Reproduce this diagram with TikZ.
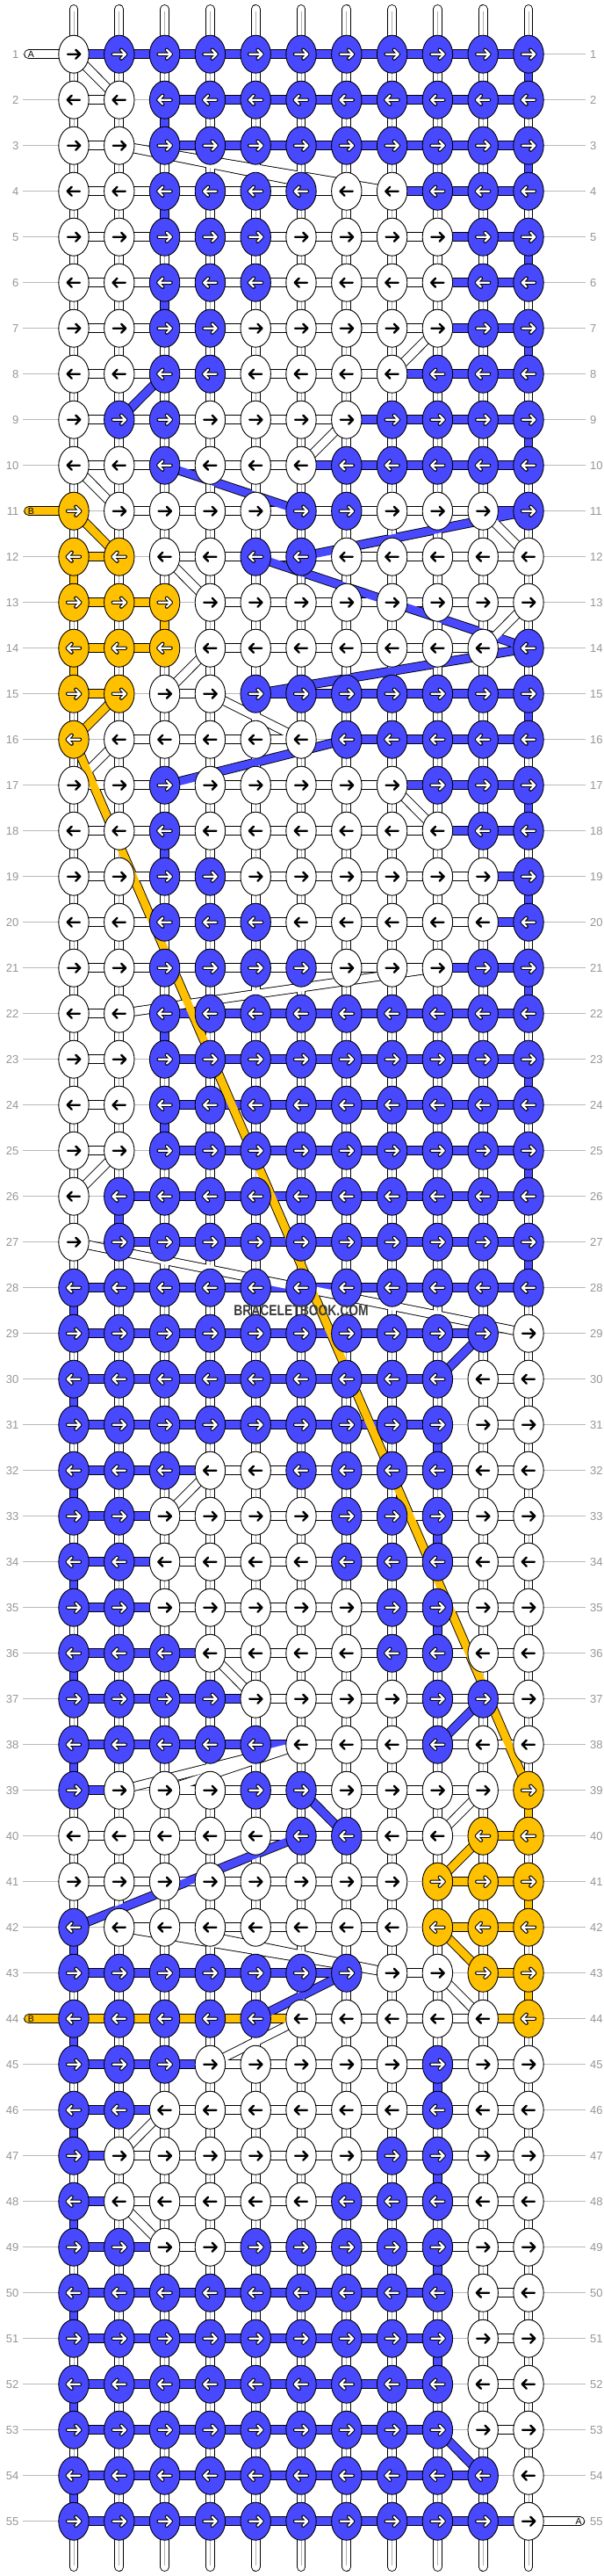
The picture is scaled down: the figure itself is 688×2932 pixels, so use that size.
\documentclass[tikz,border=0pt]{standalone}
\usepackage{fontspec}
\setmainfont{Liberation Sans}
\usetikzlibrary{shapes.geometric}
\definecolor{cU}{RGB}{72,72,255}
\definecolor{cY}{RGB}{255,192,0}
\colorlet{cW}{white}
\definecolor{lbl}{RGB}{150,150,150}
\definecolor{rowline}{RGB}{185,185,185}
\definecolor{cline}{RGB}{175,175,175}
\definecolor{wmgray}{RGB}{58,58,58}
\tikzset{
  knot/.style={ellipse, draw=black, line width=0.9pt, minimum width=34.4pt, minimum height=43pt, inner sep=0pt},
  rout/.style={line width=10.7pt, draw=black},
  rfill/.style={line width=8.9pt},
  cl/.style={line width=0.7pt, draw=cline},
  arrW/.style={line width=2.4pt, draw=black, line cap=round, line join=round},
  arrO/.style={line width=4.3pt, draw=black, line cap=round, line join=round},
  arrI/.style={line width=2.2pt, draw=white, line cap=round, line join=round},
  lab/.style={font=\fontsize{13}{13}\selectfont, text=lbl, inner sep=0pt},
  rl/.style={line width=1.1pt, draw=rowline},
  tl/.style={font=\fontsize{10.5}{10.5}\selectfont, inner sep=0pt},
}
% pass 1: positions, labels, row lines
\newcommand\PRowCoord[4]{%
  \foreach \k [count=\c] in {#2}{%
    \coordinate (k-#1-\c) at ({84+51.8*(\c-1)},{61.7+52*(#1-1)});
  }%
  \node[lab, anchor=east] (ll-#1) at (21.5,{61.7+52*(#1-1)}) {#1};
  \node[lab, anchor=west] (lr-#1) at (672,{61.7+52*(#1-1)}) {#1};
  \draw[rl] ([xshift=4.5pt]ll-#1.east) -- (k-#1-1) -- (k-#1-11) -- ([xshift=-5pt]lr-#1.west);
}
% pass 2: outlines of straight connectors
\newcommand\PRowOut[4]{%
  \pgfmathtruncatemacro\rn{#1+1}%
  \foreach \h [count=\c] in {#3}{%
    \if\h N\else
      \pgfmathtruncatemacro\cn{\c+1}%
      \draw[rout] (k-#1-\c) -- (k-#1-\cn);
    \fi}%
  \foreach \v [count=\c] in {#4}{%
    \if\v N\else
      \draw[rout] (k-#1-\c) -- (k-\rn-\c);
    \fi}%
}
% pass 3: fills of straight connectors
\newcommand\PRowFill[4]{%
  \pgfmathtruncatemacro\rn{#1+1}%
  \foreach \h [count=\c] in {#3}{%
    \if\h N\else
      \pgfmathtruncatemacro\cn{\c+1}%
      \edef\hc{c\h}%
      \draw[rfill, draw=\hc] (k-#1-\c) -- (k-#1-\cn);
    \fi}%
  \foreach \v [count=\c] in {#4}{%
    \if\v N\else
      \edef\vc{c\v}%
      \draw[rfill, draw=\vc] (k-#1-\c) -- (k-\rn-\c);
      \if\v W\draw[cl] (k-#1-\c) -- (k-\rn-\c);\fi
    \fi}%
}
% pass 4: knots with arrows
\newcommand\PRowKnots[4]{%
  \foreach \k [count=\c] in {#2}{%
    \edef\kc{c\k}%
    \node[knot, fill=\kc] (kn-#1-\c) at (k-#1-\c) {};
    \ifodd#1\relax\def\sx{1}\else\def\sx{-1}\fi
    \if\k W
      \draw[shift={(kn-#1-\c.center)}, xscale=\sx, arrW] (-7,0) -- (7.3,0) (2.3,-5) -- (7.3,0) -- (2.3,5);
    \else
      \draw[shift={(kn-#1-\c.center)}, xscale=\sx, arrO] (-7,0) -- (7.3,0) (2.3,-5) -- (7.3,0) -- (2.3,5);
      \draw[shift={(kn-#1-\c.center)}, xscale=\sx, arrI] (-7,0) -- (7.3,0) (2.3,-5) -- (7.3,0) -- (2.3,5);
    \fi
  }%
}
\newcommand\DiagOut[5]{\draw[rout] (k-#1-#2) -- (k-#3-#4);}
\newcommand\DiagFill[5]{\draw[rfill, draw=c#5] (k-#1-#2) -- (k-#3-#4);}
\def\patterndata{%
\PRow{1}{W,U,U,U,U,U,U,U,U,U,U}{U,U,U,U,U,U,U,U,U,U}{W,W,W,W,W,W,W,W,W,W,U}%
\PRow{2}{W,W,U,U,U,U,U,U,U,U,U}{W,N,U,U,U,U,U,U,U,U}{W,W,U,W,W,W,W,W,W,W,W}%
\PRow{3}{W,W,U,U,U,U,U,U,U,U,U}{W,N,U,U,U,U,U,U,U,U}{W,W,W,W,W,W,W,W,W,W,U}%
\PRow{4}{W,W,U,U,U,U,W,W,U,U,U}{W,W,W,W,W,W,W,U,U,U}{W,W,U,W,W,W,W,W,W,W,W}%
\PRow{5}{W,W,U,U,U,W,W,W,W,U,U}{W,W,W,W,W,W,W,W,U,U}{W,W,W,W,W,W,W,W,W,W,U}%
\PRow{6}{W,W,U,U,U,W,W,W,W,U,U}{W,W,W,W,W,W,W,W,U,U}{W,W,U,W,W,W,W,W,W,W,W}%
\PRow{7}{W,W,U,U,W,W,W,W,W,U,U}{W,W,W,W,W,W,W,W,U,U}{W,W,W,W,W,W,W,W,W,W,U}%
\PRow{8}{W,W,U,U,W,W,W,W,U,U,U}{W,W,W,W,W,W,W,U,U,U}{W,W,W,W,W,W,W,W,W,W,W}%
\PRow{9}{W,U,U,W,W,W,W,U,U,U,U}{W,W,W,W,W,W,U,U,U,U}{W,W,W,W,W,W,W,W,W,W,U}%
\PRow{10}{W,W,U,W,W,W,U,U,U,U,U}{W,W,W,W,W,U,U,U,U,U}{W,W,W,W,W,W,W,W,W,W,W}%
\PRow{11}{Y,W,W,W,W,U,U,W,W,W,U}{N,W,W,W,W,W,W,W,W,U}{W,W,W,W,W,W,W,W,W,W,W}%
\PRow{12}{Y,Y,W,W,U,U,W,W,W,W,W}{Y,N,W,W,W,W,W,W,W,W}{Y,W,W,W,W,W,W,W,W,W,W}%
\PRow{13}{Y,Y,Y,W,W,W,W,W,W,W,W}{Y,Y,N,W,W,W,W,W,W,W}{W,W,Y,W,W,W,W,W,W,W,W}%
\PRow{14}{Y,Y,Y,W,W,W,W,W,W,W,U}{Y,Y,N,W,W,W,W,W,W,N}{Y,W,W,W,W,W,W,W,W,W,W}%
\PRow{15}{Y,Y,W,W,U,U,U,U,U,U,U}{Y,N,W,N,U,U,U,U,U,U}{W,W,W,W,W,W,W,W,W,W,U}%
\PRow{16}{Y,W,W,W,W,W,U,U,U,U,U}{N,W,W,W,W,N,U,U,U,U}{W,W,W,W,W,W,W,W,W,W,W}%
\PRow{17}{W,W,U,W,W,W,W,W,U,U,U}{W,W,W,W,W,W,W,U,U,U}{W,W,W,W,W,W,W,W,W,W,U}%
\PRow{18}{W,W,U,W,W,W,W,W,W,U,U}{W,W,W,W,W,W,W,W,U,U}{W,W,U,W,W,W,W,W,W,W,W}%
\PRow{19}{W,W,U,U,W,W,W,W,W,W,U}{W,W,W,W,W,W,W,W,W,U}{W,W,W,W,W,W,W,W,W,W,U}%
\PRow{20}{W,W,U,U,U,W,W,W,W,W,U}{W,W,W,W,W,W,W,W,W,U}{W,W,W,W,W,W,W,W,W,W,W}%
\PRow{21}{W,W,U,U,U,U,W,W,W,U,U}{W,W,W,W,W,W,W,W,U,U}{W,W,W,W,W,W,W,W,W,W,U}%
\PRow{22}{W,W,U,U,U,U,U,U,U,U,U}{W,N,U,U,U,U,U,U,U,U}{W,W,U,W,W,W,W,W,W,W,W}%
\PRow{23}{W,W,U,U,U,U,U,U,U,U,U}{W,N,U,U,U,U,U,U,U,U}{W,W,W,W,W,W,W,W,W,W,U}%
\PRow{24}{W,W,U,U,U,U,U,U,U,U,U}{W,N,U,U,U,U,U,U,U,U}{W,W,U,W,W,W,W,W,W,W,W}%
\PRow{25}{W,W,U,U,U,U,U,U,U,U,U}{W,N,U,U,U,U,U,U,U,U}{W,W,W,W,W,W,W,W,W,W,U}%
\PRow{26}{W,U,U,U,U,U,U,U,U,U,U}{N,U,U,U,U,U,U,U,U,U}{W,U,W,W,W,W,W,W,W,W,W}%
\PRow{27}{W,U,U,U,U,U,U,U,U,U,U}{N,U,U,U,U,U,U,U,U,U}{W,W,W,W,W,W,W,W,W,W,U}%
\PRow{28}{U,U,U,U,U,U,U,U,U,U,U}{U,U,U,U,U,U,U,U,U,U}{U,W,W,W,W,W,W,W,W,W,W}%
\PRow{29}{U,U,U,U,U,U,U,U,U,U,W}{U,U,U,U,U,U,U,U,U,N}{W,W,W,W,W,W,W,W,W,W,W}%
\PRow{30}{U,U,U,U,U,U,U,U,U,W,W}{U,U,U,U,U,U,U,U,N,W}{U,W,W,W,W,W,W,W,W,W,W}%
\PRow{31}{U,U,U,U,U,U,U,U,U,W,W}{U,U,U,U,U,U,U,U,N,W}{W,W,W,W,W,W,W,W,U,W,W}%
\PRow{32}{U,U,U,W,W,U,U,U,U,W,W}{U,U,U,W,W,W,W,W,W,W}{U,W,W,W,W,W,W,W,W,W,W}%
\PRow{33}{U,U,W,W,W,W,U,U,U,W,W}{U,U,W,W,W,W,W,W,W,W}{W,W,W,W,W,W,W,W,U,W,W}%
\PRow{34}{U,U,W,W,W,W,U,U,U,W,W}{U,U,W,W,W,W,W,W,W,W}{U,W,W,W,W,W,W,W,W,W,W}%
\PRow{35}{U,U,W,W,W,W,W,U,U,W,W}{U,U,W,W,W,W,W,W,W,W}{W,W,W,W,W,W,W,W,U,W,W}%
\PRow{36}{U,U,U,W,W,W,W,U,U,W,W}{U,U,U,W,W,W,W,W,W,W}{U,W,W,W,W,W,W,W,W,W,W}%
\PRow{37}{U,U,U,U,W,W,W,W,U,U,W}{U,U,U,U,W,W,W,W,W,W}{W,W,W,W,W,W,W,W,W,W,W}%
\PRow{38}{U,U,U,U,U,W,W,W,U,W,W}{U,U,U,U,U,W,W,W,W,W}{U,W,W,W,W,W,W,W,W,W,W}%
\PRow{39}{U,W,W,W,U,U,W,W,W,W,Y}{U,N,W,W,W,W,W,W,W,N}{W,W,W,W,W,W,W,W,W,W,Y}%
\PRow{40}{W,W,W,W,W,U,U,W,W,Y,Y}{W,W,W,W,W,W,W,W,N,Y}{W,W,W,W,W,W,W,W,W,W,W}%
\PRow{41}{W,W,W,W,W,W,W,W,Y,Y,Y}{W,W,W,W,W,W,W,N,Y,Y}{W,W,W,W,W,W,W,W,W,W,Y}%
\PRow{42}{U,W,W,W,W,W,W,W,Y,Y,Y}{N,W,W,W,W,W,W,N,Y,Y}{U,W,W,W,W,W,W,W,W,W,W}%
\PRow{43}{U,U,U,U,U,U,U,W,W,Y,Y}{U,U,U,U,U,U,N,W,N,Y}{W,W,W,W,W,W,W,W,W,W,Y}%
\PRow{44}{U,U,U,U,U,W,W,W,W,W,Y}{Y,Y,Y,Y,Y,W,W,W,W,Y}{U,W,W,W,W,W,W,W,W,W,W}%
\PRow{45}{U,U,U,W,W,W,W,W,U,W,W}{U,U,U,W,W,W,W,W,W,W}{W,W,W,W,W,W,W,W,U,W,W}%
\PRow{46}{U,U,W,W,W,W,W,W,U,W,W}{U,U,W,W,W,W,W,W,W,W}{U,W,W,W,W,W,W,W,W,W,W}%
\PRow{47}{U,W,W,W,W,W,W,U,U,W,W}{U,W,W,W,W,W,W,W,W,W}{W,W,W,W,W,W,W,W,U,W,W}%
\PRow{48}{U,W,W,W,W,W,U,U,U,W,W}{U,W,W,W,W,W,W,W,W,W}{U,W,W,W,W,W,W,W,W,W,W}%
\PRow{49}{U,U,W,W,U,U,U,U,U,W,W}{U,U,W,W,W,W,W,W,W,W}{W,W,W,W,W,W,W,W,U,W,W}%
\PRow{50}{U,U,U,U,U,U,U,U,U,W,W}{U,U,U,U,U,U,U,U,N,W}{U,W,W,W,W,W,W,W,W,W,W}%
\PRow{51}{U,U,U,U,U,U,U,U,U,W,W}{U,U,U,U,U,U,U,U,N,W}{W,W,W,W,W,W,W,W,U,W,W}%
\PRow{52}{U,U,U,U,U,U,U,U,U,W,W}{U,U,U,U,U,U,U,U,N,W}{U,W,W,W,W,W,W,W,W,W,W}%
\PRow{53}{U,U,U,U,U,U,U,U,U,W,W}{U,U,U,U,U,U,U,U,N,W}{W,W,W,W,W,W,W,W,W,W,W}%
\PRow{54}{U,U,U,U,U,U,U,U,U,U,W}{U,U,U,U,U,U,U,U,U,N}{U,W,W,W,W,W,W,W,W,W,W}%
\PRow{55}{U,U,U,U,U,U,U,U,U,U,W}{U,U,U,U,U,U,U,U,U,U}{N,N,N,N,N,N,N,N,N,N,N}%
}
\def\diagdata{%
\DG{1}{1}{2}{2}{W}\DG{3}{2}{4}{7}{W}\DG{3}{2}{4}{8}{W}\DG{7}{9}{8}{8}{W}%
\DG{8}{3}{9}{2}{U}\DG{9}{7}{10}{6}{W}\DG{10}{1}{11}{2}{W}\DG{10}{3}{11}{6}{U}%
\DG{11}{1}{12}{2}{Y}\DG{11}{11}{12}{6}{U}\DG{11}{10}{12}{11}{W}\DG{12}{3}{13}{4}{W}%
\DG{12}{5}{13}{8}{U}\DG{13}{8}{14}{11}{U}\DG{13}{11}{14}{10}{W}\DG{14}{11}{15}{5}{U}%
\DG{14}{4}{15}{3}{W}\DG{15}{2}{16}{1}{Y}\DG{15}{4}{16}{6}{W}\DG{16}{7}{17}{3}{U}%
\DG{16}{2}{17}{1}{W}\DG{17}{8}{18}{9}{W}\DG{21}{9}{22}{2}{W}%
\DG{25}{2}{26}{1}{W}\DG{27}{1}{29}{11}{W}\DG{29}{10}{30}{9}{U}\DG{32}{4}{33}{3}{W}%
\DG{36}{4}{37}{5}{W}\DG{37}{10}{38}{9}{U}\DG{38}{6}{39}{2}{W}\DG{38}{6}{39}{3}{W}%
\DG{39}{6}{40}{7}{U}\DG{39}{10}{40}{9}{W}\DG{40}{6}{42}{1}{U}\DG{40}{10}{41}{9}{Y}%
\DG{42}{2}{43}{8}{W}\DG{42}{3}{43}{8}{W}\DG{42}{9}{43}{10}{Y}\DG{43}{7}{44}{5}{U}%
\DG{43}{9}{44}{10}{W}\DG{44}{6}{45}{4}{W}\DG{46}{3}{47}{2}{W}\DG{48}{2}{49}{3}{W}%
\DG{53}{9}{54}{10}{U}\DG{16}{1}{39}{11}{Y}%
}
\begin{document}
\begin{tikzpicture}[x=1pt,y=-1pt]
\useasboundingbox (0,0) rectangle (688,2932);
\fill[white] (0,0) rectangle (688,2932);
% positions, labels, row lines
\let\PRow\PRowCoord
\patterndata
% string end points
\foreach \c in {1,...,11}{
  \coordinate (top-\c) at ({84+51.8*(\c-1)},10.4);
  \coordinate (topg-\c) at ({84+51.8*(\c-1)},12.5);
  \coordinate (bot-\c) at ({84+51.8*(\c-1)},2921.6);
  \coordinate (botg-\c) at ({84+51.8*(\c-1)},2919.5);
}
\coordinate (tA1) at (32.6,61.7);
\coordinate (tB1) at (32.6,581.7);
\coordinate (tB2) at (32.6,2297.7);
\coordinate (tA2) at (660.8,2869.7);
% outlines
\let\PRow\PRowOut
\patterndata
\let\DG\DiagOut
\diagdata
\foreach \c in {1,...,11}{
  \draw[rout, line cap=round] (top-\c) -- (k-1-\c);
  \draw[rout, line cap=round] (k-55-\c) -- (bot-\c);
}
\draw[rout, line cap=round] (tA1) -- (k-1-1);
\draw[rout, line cap=round] (tB1) -- (k-11-1);
\draw[rout, line cap=round] (tB2) -- (k-44-1);
\draw[rout, line cap=round] (k-55-11) -- (tA2);
% fills of straight strands
\let\PRow\PRowFill
\patterndata
\foreach \c in {1,...,11}{
  \draw[rfill, white, line cap=round] (top-\c) -- (k-1-\c);
  \draw[rfill, white, line cap=round] (k-55-\c) -- (bot-\c);
  \draw[cl] (topg-\c) -- (k-1-\c);
  \draw[cl] (k-55-\c) -- (botg-\c);
}
\draw[rfill, white, line cap=round] (tA1) -- (k-1-1);
\draw[rfill, cY, line cap=round] (tB1) -- (k-11-1);
\draw[rfill, cY, line cap=round] (tB2) -- (k-44-1);
\draw[rfill, white, line cap=round] (k-55-11) -- (tA2);
% fills of diagonal strands
\let\DG\DiagFill
\diagdata
% knots
\let\PRow\PRowKnots
\patterndata
% tail letters
\node[tl] (lA1) at (35.5,62) {A};
\node[tl] (lB1) at (35.5,582) {B};
\node[tl] (lB2) at (35.5,2298) {B};
\node[tl] (lA2) at (659,2870) {A};
% watermark
\node[inner sep=0pt] (wm) at (343,1492) {\scalebox{0.815}[1]{\fontsize{17}{17}\selectfont\bfseries\color{wmgray}BRACELETBOOK.COM}};
\end{tikzpicture}
\end{document}
